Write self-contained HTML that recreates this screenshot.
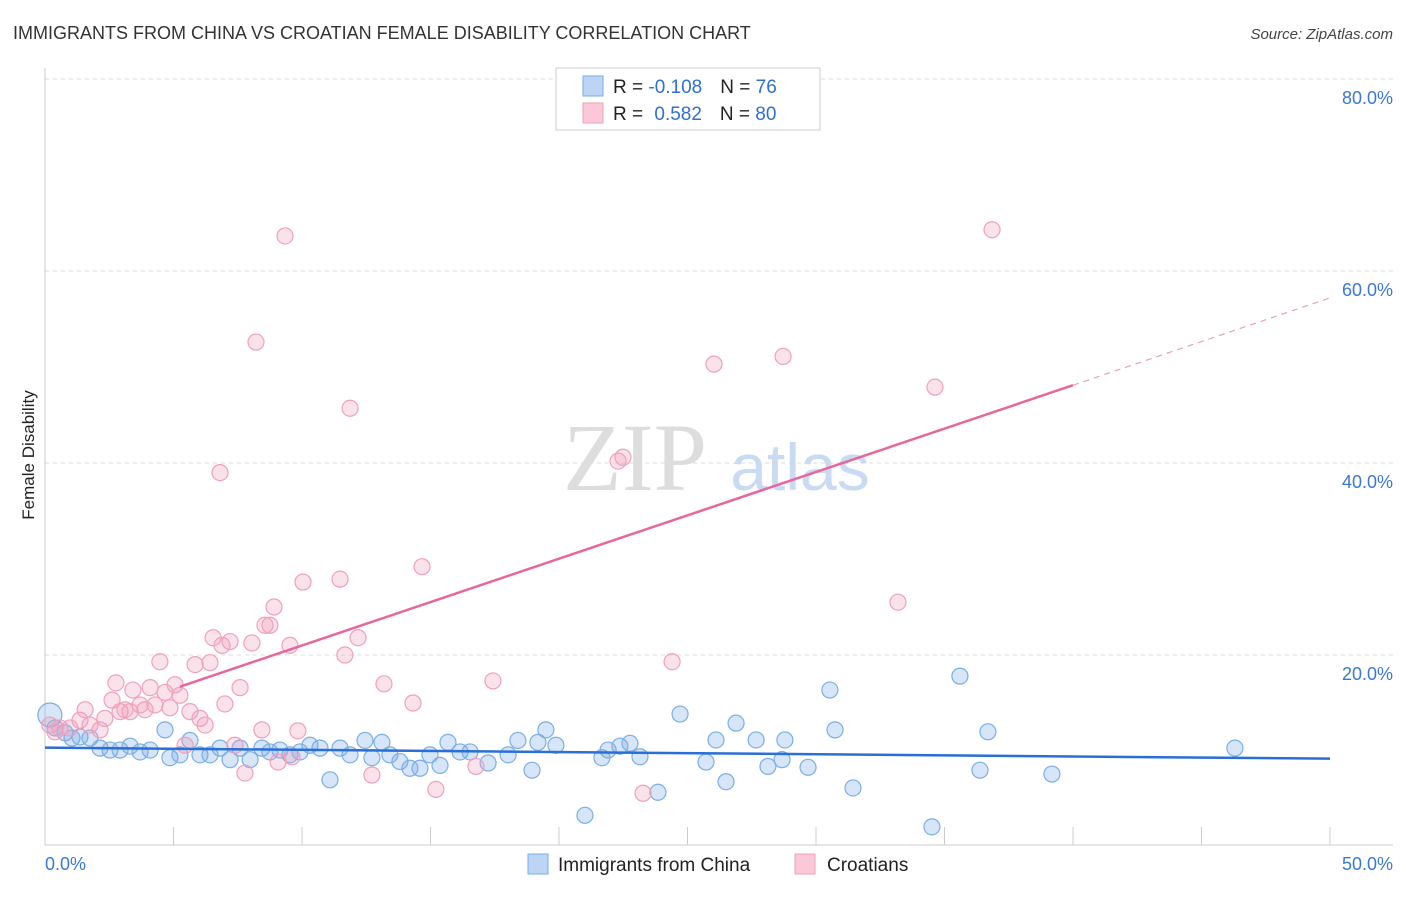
<!DOCTYPE html>
<html><head><meta charset="utf-8"><style>
body{margin:0;background:#fff;font-family:"Liberation Sans",sans-serif;}
</style></head><body>
<svg width="1406" height="892" xmlns="http://www.w3.org/2000/svg" font-family="Liberation Sans, sans-serif">
<text x="13" y="39" font-size="18" fill="#333">IMMIGRANTS FROM CHINA VS CROATIAN FEMALE DISABILITY CORRELATION CHART</text>
<text x="1393" y="39" font-size="15" fill="#444" font-style="italic" text-anchor="end">Source: ZipAtlas.com</text>
<text x="34" y="455" font-size="17" fill="#222" text-anchor="middle" transform="rotate(-90 34 455)">Female Disability</text>
<g id="grid"></g>
<text x="635" y="490" font-size="96" fill="#ddd" font-family="Liberation Serif, serif" text-anchor="middle">ZIP</text>
<text x="800" y="490" font-size="66" fill="#c8dbf2" text-anchor="middle">atlas</text>
<g id="pts"></g>
<g id="lines"></g>
<g>
<rect x="556" y="68" width="264" height="62" fill="#fff" stroke="#ccc"/>
<rect x="583" y="76" width="20" height="20" fill="#bcd5f5" stroke="#7aaee6"/>
<rect x="583" y="103" width="20" height="20" fill="#fbc8d8" stroke="#f0a0bb"/>
<text x="613" y="93" font-size="19" fill="#222">R = <tspan fill="#2f6fd0">-0.108</tspan><tspan dx="18">N = </tspan><tspan fill="#2f6fd0">76</tspan></text>
<text x="613" y="120" font-size="19" fill="#222">R = <tspan fill="#2f6fd0" dx="6">0.582</tspan><tspan dx="18">N = </tspan><tspan fill="#2f6fd0">80</tspan></text>
</g>
<g>
<rect x="528" y="854" width="20" height="20" fill="#bcd5f5" stroke="#7aaee6"/>
<text x="558" y="871" font-size="19" fill="#222">Immigrants from China</text>
<rect x="795" y="854" width="20" height="20" fill="#fbc8d8" stroke="#f0a0bb"/>
<text x="827" y="871" font-size="19" fill="#222">Croatians</text>
</g>
</svg>
<script>
const xTicks=[0,5,10,15,20,25,30,35,40,45,50];
const yTicks=[20,40,60,80];
const blueX=[0.19,0.39,0.78,1.05,1.36,1.75,2.14,2.53,2.92,3.31,3.70,4.09,4.67,4.86,5.25,5.64,6.03,6.42,6.81,7.20,7.59,7.98,8.44,8.75,9.14,9.53,9.92,10.31,10.70,11.09,11.48,11.87,12.45,12.72,13.11,13.42,13.81,14.20,14.59,14.98,15.37,15.68,16.15,16.54,17.24,18.02,18.40,18.95,19.18,19.49,19.88,21.01,21.67,21.91,22.37,22.76,23.15,23.85,24.71,25.72,26.11,26.50,26.89,27.67,28.13,28.68,28.79,29.69,30.54,30.74,31.44,34.51,35.60,36.38,36.69,39.18,46.30];
const blueY=[13.75,12.4,11.9,11.35,11.46,11.35,10.3,10.1,10.1,10.5,9.9,10.1,12.2,9.3,9.6,11.1,9.6,9.6,10.3,9.1,10.3,9.1,10.3,9.9,10.1,9.6,9.9,10.6,10.3,7.0,10.3,9.6,11.1,9.3,10.9,9.6,8.9,8.2,8.2,9.6,8.5,10.9,9.9,9.9,8.75,9.6,11.1,8.0,10.9,12.2,10.6,3.3,9.3,10.1,10.5,10.8,9.4,5.7,13.85,8.85,11.15,6.8,12.9,11.15,8.4,9.1,11.15,8.3,16.35,12.2,6.15,2.1,17.8,8.0,12.0,7.6,10.3];
const pinkX=[0.19,0.39,0.58,0.97,1.36,1.56,1.75,2.14,2.33,2.61,2.76,2.92,3.11,3.31,3.42,3.70,3.89,4.09,4.28,4.47,4.67,4.86,5.06,5.25,5.45,5.64,5.84,6.03,6.23,6.42,6.54,6.81,6.89,7.00,7.20,7.39,7.59,7.78,8.05,8.21,8.44,8.56,8.75,8.91,9.07,9.34,9.53,9.61,9.84,10.04,11.48,11.67,11.87,12.18,12.72,13.19,14.32,14.67,15.21,16.77,17.43,22.30,22.49,23.27,24.40,26.03,28.72,33.19,34.63,36.85];
const pinkY=[12.7,12.0,12.4,12.4,13.2,14.3,12.7,12.2,13.4,15.3,17.1,14.1,14.3,14.1,16.35,14.8,14.3,16.6,14.8,19.3,16.1,14.5,16.9,15.8,10.6,14.1,19.0,13.4,12.7,19.2,21.8,39.0,21.0,14.9,21.4,10.6,16.6,7.7,21.25,52.6,12.2,23.1,23.1,25.0,8.85,63.65,21.0,9.4,12.1,27.6,27.9,20.0,45.7,21.8,7.5,17.0,15.0,29.2,6.0,8.4,17.3,40.2,40.6,5.6,19.3,50.3,51.1,25.5,47.9,64.3];
const blueTrendX=[0,50], blueTrendY=[10.35,9.2];
const pinkTrendX=[5.25,40,50], pinkTrendY=[16.7,48.1,57.2];
const NS='http://www.w3.org/2000/svg';
const sx=v=>45+v*1285/50, sy=v=>847-v*9.6;
function mk(tag,attrs,parent){const e=document.createElementNS(NS,tag);for(const k in attrs)e.setAttribute(k,attrs[k]);parent.appendChild(e);return e;}
const grid=document.getElementById('grid');
yTicks.forEach(t=>{
 const l=mk('line',{x1:45,x2:1393,y1:sy(t),y2:sy(t),stroke:'#ddd','stroke-dasharray':'4 4'},grid);
 
 
 const tx=mk('text',{x:1393,y:sy(t)+25,'font-size':18,fill:'#3a78d4','text-anchor':'end'},grid);
 tx.textContent=t.toFixed(1)+'%';
 
 
});
const ax=mk('line',{x1:45,x2:1393,y1:845,y2:845,stroke:'#ccc'},grid);


const ay=mk('line',{x1:45,x2:45,y1:68,y2:845,stroke:'#ccc'},grid);


xTicks.forEach(t=>{
 const l=mk('line',{x1:sx(t),x2:sx(t),y1:827,y2:845,stroke:'#ccc'},grid);
 
 
});
[[0,45,'start'],[50,1393,'end']].forEach(([t,x,a])=>{
 const tx=mk('text',{x:x,y:870,'font-size':18,fill:'#3a78d4','text-anchor':a},grid);
 tx.textContent=t.toFixed(1)+'%';
 
 
});
const pts=document.getElementById('pts');
blueX.forEach((x,i)=>{
 const c=mk('circle',{cx:sx(x),cy:sy(blueY[i]),r:i==0?12:8,fill:'rgba(120,170,230,0.3)',stroke:'#7aaee6','stroke-width':1.2},pts);
 
 
});
pinkX.forEach((x,i)=>{
 const c=mk('circle',{cx:sx(x),cy:sy(pinkY[i]),r:8,fill:'rgba(240,160,190,0.3)',stroke:'#f0a0bb','stroke-width':1.2},pts);
 
 
});
const lines=document.getElementById('lines');
const bl=mk('line',{x1:sx(blueTrendX[0]),y1:sy(blueTrendY[0]),x2:sx(blueTrendX[1]),y2:sy(blueTrendY[1]),stroke:'#2a6fd6','stroke-width':2.5},lines);


const pl=mk('line',{x1:sx(pinkTrendX[0]),y1:sy(pinkTrendY[0]),x2:sx(pinkTrendX[1]),y2:sy(pinkTrendY[1]),stroke:'#e8679a','stroke-width':2.5},lines);


const pd=mk('line',{x1:sx(pinkTrendX[1]),y1:sy(pinkTrendY[1]),x2:sx(pinkTrendX[2]),y2:sy(pinkTrendY[2]),stroke:'#e8a0bb','stroke-width':1.2,'stroke-dasharray':'6 5'},lines);


</script>
</body></html>
